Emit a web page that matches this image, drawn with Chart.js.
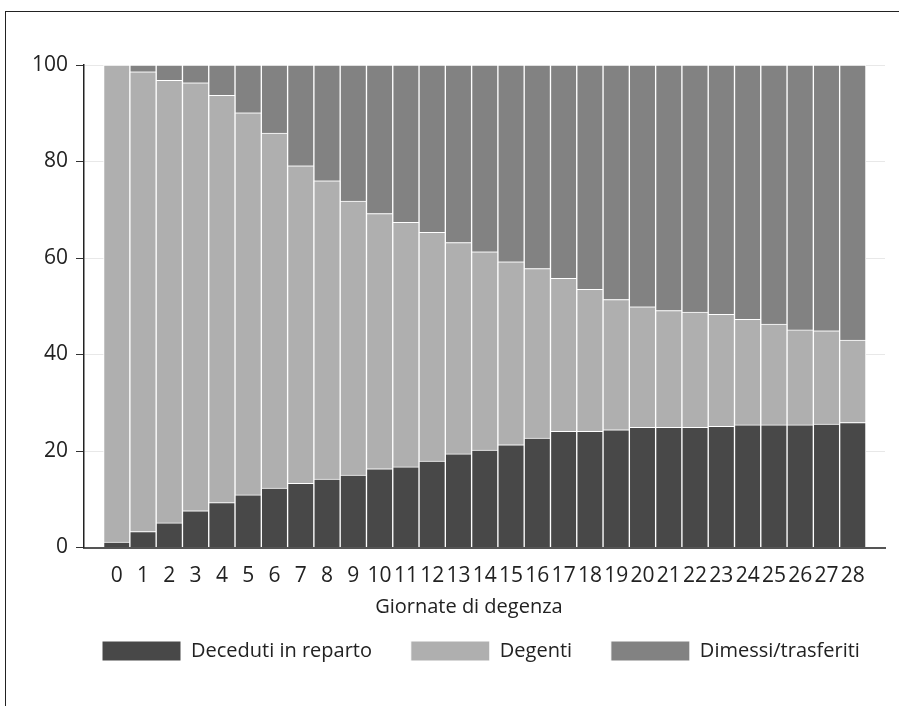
<!DOCTYPE html>
<html>
<head>
<meta charset="utf-8">
<script src="https://cdn.jsdelivr.net/npm/chart.js@4"></script>
<style>
  body { margin: 0; background: #fff; }
  .wrap { position: relative; width: 899px; height: 706px; }
  .frame {
    position: absolute; left: 5px; top: 11px; right: 0; bottom: 0;
    border-top: 1.5px solid #222; border-left: 1.5px solid #222;
    pointer-events: none;
  }
</style>
</head>
<body>
<div class="wrap">
  <canvas id="chart" width="899" height="706"></canvas>
  <div class="frame"></div>
</div>
<script>
// Giornate di degenza
const days = [0, 1, 2, 3, 4, 5, 6, 7, 8, 9, 10, 11, 12, 13, 14, 15, 16, 17, 18, 19, 20, 21, 22, 23, 24, 25, 26, 27, 28];

// percent values
const deceduti = [1.1, 3.3, 5.1, 7.6, 9.3, 10.9, 12.3, 13.3, 14.2, 15.0, 16.3, 16.7, 17.9, 19.4, 20.2, 21.3, 22.7, 24.1, 24.1, 24.4, 24.9, 24.9, 24.9, 25.1, 25.4, 25.4, 25.4, 25.6, 25.9];
const degenti = [98.9, 95.3, 91.7, 88.7, 84.4, 79.2, 73.6, 65.8, 61.8, 56.8, 52.9, 50.7, 47.4, 43.8, 41.1, 37.9, 35.1, 31.7, 29.4, 27.0, 25.0, 24.2, 23.9, 23.2, 21.9, 20.9, 19.7, 19.3, 17.1];
const dimessi = [0, 1.4, 3.2, 3.7, 6.3, 9.9, 14.1, 20.9, 24.0, 28.2, 30.8, 32.6, 34.7, 36.8, 38.7, 40.8, 42.2, 44.2, 46.5, 48.6, 50.1, 50.9, 51.2, 51.7, 52.7, 53.7, 54.9, 55.1, 57.0];

const yTicks = [0, 20, 40, 60, 80, 100];

const font = "'Open Sans', 'Noto Sans', sans-serif";

function points(values) {
  return days.map((d, i) => ({ x: d, y: values[i] }));
}

const ctx = document.getElementById('chart').getContext('2d');

new Chart(ctx, {
  type: 'bar',
  data: {
    datasets: [
      {
        // trailing spaces widen the gap before the next legend box
        label: 'Deceduti in reparto    ',
        data: points(deceduti),
        backgroundColor: '#484848',
        borderColor: '#ffffff',
        borderWidth: 1
      },
      {
        label: 'Degenti    ',
        data: points(degenti),
        backgroundColor: '#afafaf',
        borderColor: '#ffffff',
        borderWidth: 1
      },
      {
        label: 'Dimessi/trasferiti',
        data: points(dimessi),
        backgroundColor: '#828282',
        borderColor: '#ffffff',
        borderWidth: 1
      }
    ]
  },
  options: {
    responsive: false,
    animation: false,
    devicePixelRatio: 1,
    barPercentage: 1,
    categoryPercentage: 1,
    layout: {
      padding: { left: 0, right: 14, top: 65, bottom: 35 }
    },
    plugins: {
      tooltip: { enabled: false },
      legend: {
        position: 'bottom',
        fullSize: false,
        align: 'start',
        labels: {
          boxWidth: 79,
          boxHeight: 20,
          padding: 18,
          color: '#222',
          font: { family: font, size: 20 }
        }
      }
    },
    scales: {
      x: {
        type: 'linear',
        stacked: true,
        min: -0.72,
        max: 28.7,
        afterBuildTicks: function(scale) {
          scale.ticks = days.map(d => ({ value: d }));
        },
        afterFit: function(scale) {
          scale.height = 75.5;
        },
        grid: { display: false, drawTicks: false },
        border: { display: true, color: '#555', width: 2 },
        ticks: {
          autoSkip: false,
          maxRotation: 0,
          padding: 16,
          color: '#222',
          font: { family: font, size: 21 },
          callback: v => String(v)
        },
        title: {
          display: true,
          text: 'Giornate di degenza      ',
          color: '#222',
          padding: { top: 0, bottom: 4 },
          font: { family: font, size: 20 }
        }
      },
      y: {
        stacked: true,
        min: 0,
        max: 100,
        afterBuildTicks: function(scale) {
          scale.ticks = yTicks.map(v => ({ value: v }));
        },
        afterFit: function(scale) {
          scale.width = 84;
        },
        grid: {
          color: '#e8e8e8',
          tickColor: '#333',
          tickLength: 8
        },
        border: { display: true, color: '#222', width: 1.5 },
        ticks: {
          padding: 8,
          color: '#222',
          font: { family: font, size: 21 }
        }
      }
    }
  }
});
</script>
</body>
</html>
